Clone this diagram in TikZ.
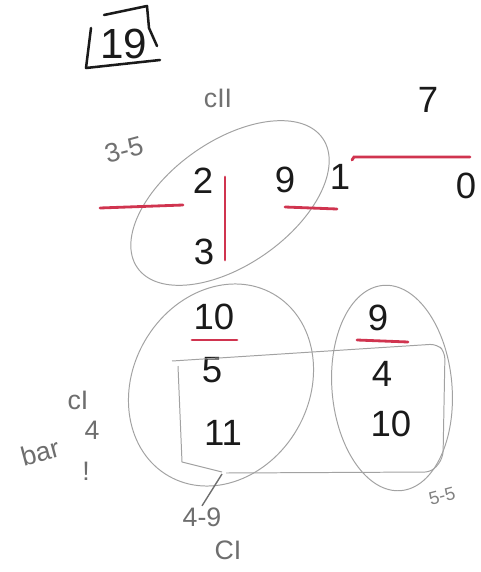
\documentclass[tikz,border=0pt]{standalone}
\usepackage{fontspec}
\setmainfont{Liberation Sans}
\usetikzlibrary{positioning}
\definecolor{redpen}{HTML}{D0344F}
\definecolor{pencil}{HTML}{A2A2A2}
\definecolor{graynote}{HTML}{6E6E6E}
\definecolor{ink}{HTML}{1A1A1A}

\begin{document}
\begin{tikzpicture}[x=0.025cm,y=-0.025cm,
digit/.style={text=ink,font=\fontsize{26}{28}\selectfont,inner sep=1pt},
note/.style={text=graynote,font=\fontsize{19}{21}\selectfont,inner sep=1pt},
redbar/.style={redpen,line width=2pt,line cap=round},
loop/.style={pencil,line width=0.7pt},
pen/.style={ink,line width=1.8pt,line cap=round,line join=round}]
  \useasboundingbox (0,0) rectangle (480,572);
  % page number in its box
  \node[digit,font=\fontsize{30}{32}\selectfont] (page) at (124,44) {19};
  \draw[pen] (91,28) -- (86,68) -- (160,60);
  \draw[pen] (104,15) -- (147,6) -- (149,28) -- (157,46);
  % upper group
  \node[note,text=pencil!70!black] (cII) at (218,98) {cII};
  \node[note,text=pencil!70!black,rotate=15,inner sep=0pt] (range1) at (124,150) {3-5};
  \node[digit] (two) at (203,181) {2};
  \node[digit] (three) at (204,252) {3};
  \node[digit] (nineA) at (285,180) {9};
  \node[digit] (one) at (340,177) {1};
  \node[digit] (zero) at (466,186) {0};
  \node[digit] (seven) at (428,100) {7};
  \draw[loop,rotate around={35:(230,203)}] (230,203) ellipse [x radius=113, y radius=62];
  \draw[redbar] (100,208) -- (183,205);
  \draw[redbar] (225,177) -- (225,260);
  \draw[redbar] (285,207) -- (337,209);
  \draw[redbar] (352,160) -- (354,157) -- (470,157);
  % lower groups
  \node[digit] (tenA) at (214,317) {10};
  \node[digit] (nineB) at (378,318) {9};
  \node[digit] (five) at (212,370) {5};
  \node[digit] (eleven) at (223,433) {11};
  \node[digit] (four) at (382,374) {4};
  \node[digit] (tenB) at (391,424) {10};
  \draw[redbar] (192,340) -- (237,340);
  \draw[redbar] (357,340) -- (408,342);
  \draw[loop,rotate around={60:(221,385)}] (221,385) ellipse [x radius=105, y radius=88];
  \draw[loop,rotate around={5:(392,388)}] (392,388) ellipse [x radius=60, y radius=103];
  \draw[loop,rounded corners=5] (172,361) -- (437,344) -- (445,352) -- (443,458) -- (432,472) -- (226,473);
  \draw[loop] (178,366) -- (182,462) -- (222,472);
  % notes
  \node[note] (cI) at (78,400) {cI};
  \node[note,rotate=15,inner sep=0pt] (bar) at (40,452) {bar};
  \node[note] (barfour) at (92,430) {4};
  \node[note] (bang) at (86,471) {!};
  \node[note] (range2) at (202,517) {4-9};
  \node[note] (CI) at (228,550) {CI};
  \node[note,font=\fontsize{13}{15}\selectfont,text=pencil!80!black,rotate=15,inner sep=0pt] (range3) at (442,496) {5-5};
  \draw[loop,line width=1pt,graynote] (222,474) -- (range2.north);
\end{tikzpicture}
\end{document}
